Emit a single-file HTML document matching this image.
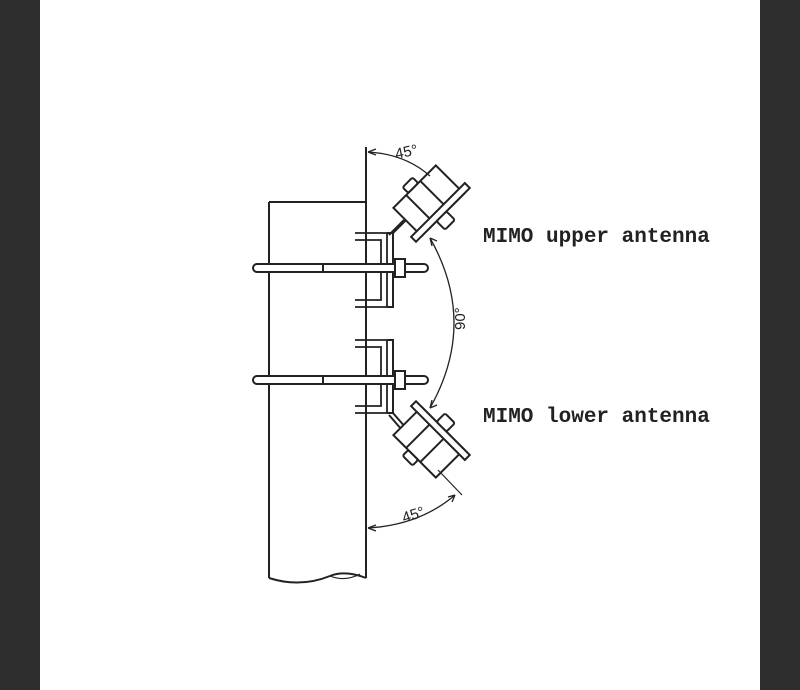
<!DOCTYPE html>
<html><head><style>
body{margin:0;background:#fff}
.wrap{position:relative;width:800px;height:690px;background:#fff;overflow:hidden}
.bl{position:absolute;top:0;left:0;width:40px;height:690px;background:#2d2d2d}
.br{position:absolute;top:0;right:0;width:40px;height:690px;background:#2d2d2d}
</style></head><body><div class="wrap"><div class="bl"></div><div class="br"></div>
<svg width="800" height="690" style="position:absolute;left:0;top:0" fill="none" stroke="#222" stroke-width="2">
<line x1="269" y1="202" x2="269" y2="578"/>
<line x1="269" y1="202" x2="366" y2="202"/>
<line x1="366" y1="147" x2="366" y2="578"/>
<path d="M269 578 Q300 588 330 576 Q345 570 366 578"/>
<path d="M330 576 Q345 582 360 574" stroke-width="1.2"/>
<g>
<path d="M355 233 H387 V307 H355 M355 240 H381 V300 H355" stroke-width="1.8"/>
<path d="M387 233 L393 233 V307 H387"/>
<rect x="253" y="264" width="175" height="8" rx="4" fill="#fff"/>
<line x1="323" y1="264" x2="323" y2="272"/>
<rect x="395" y="259" width="10" height="18" fill="#fff"/>
<line x1="393" y1="233" x2="408" y2="218"/>
<line x1="389" y1="235" x2="404" y2="220"/>
</g>
<g>
<path d="M355 340 H387 V413 H355 M355 347 H381 V406 H355" stroke-width="1.8"/>
<path d="M387 340 L393 340 V413 H387"/>
<rect x="253" y="376" width="175" height="8" rx="4" fill="#fff"/>
<line x1="323" y1="376" x2="323" y2="384"/>
<rect x="395" y="371" width="10" height="18" fill="#fff"/>
<line x1="393" y1="413" x2="406" y2="428"/>
<line x1="389" y1="415" x2="402" y2="430"/>
</g>
<g transform="translate(433,205) rotate(-45) scale(1,-1)">
<rect x="-30" y="-14" width="60" height="40" fill="#fff"/>
<rect x="-38" y="-14" width="76" height="7" fill="#fff"/>
<line x1="-12" y1="-7" x2="-12" y2="26"/>
<line x1="8" y1="-7" x2="8" y2="26"/>
<rect x="-9" y="-26" width="14" height="12" rx="2" fill="#fff"/>
<rect x="-9" y="26" width="14" height="8" rx="2" fill="#fff"/>
</g>
<g transform="translate(433,438) rotate(45)">
<rect x="-30" y="-14" width="60" height="40" fill="#fff"/>
<rect x="-38" y="-14" width="76" height="7" fill="#fff"/>
<line x1="-12" y1="-7" x2="-12" y2="26"/>
<line x1="8" y1="-7" x2="8" y2="26"/>
<rect x="-9" y="-26" width="14" height="12" rx="2" fill="#fff"/>
<rect x="-9" y="26" width="14" height="8" rx="2" fill="#fff"/>
</g>
<path d="M368 152 Q405 154 430 176" stroke-width="1.3"/>
<path d="M368 152 l8 -3 M368 152 l8 3" stroke-width="1.3"/>
<path d="M430 238 Q478 323 430 408" stroke-width="1.3"/>
<path d="M430 238 l2 8 M430 238 l7 3 M430 408 l2 -8 M430 408 l7 -3" stroke-width="1.3"/>
<line x1="438" y1="470" x2="462" y2="495" stroke-width="1.2"/>
<path d="M368 528 Q420 525 455 495" stroke-width="1.3"/>
<path d="M368 528 l8 -3 M368 528 l8 3 M455 495 l-3 7 M455 495 l-7 2" stroke-width="1.3"/>
</svg>
<svg width="800" height="690" style="position:absolute;left:0;top:0" font-family="Liberation Sans, sans-serif" fill="#222">
<text x="395" y="157" font-size="15" transform="rotate(-12 405 152)">45°</text>
<text x="460" y="335" font-size="15" transform="rotate(-90 460 330)">90°</text>
<text x="402" y="520" font-size="15" transform="rotate(-18 412 515)">45°</text>
<text x="483" y="242" font-family="Liberation Mono, monospace" font-size="21" font-weight="bold">MIMO upper antenna</text>
<text x="483" y="422" font-family="Liberation Mono, monospace" font-size="21" font-weight="bold">MIMO lower antenna</text>
</svg>
</div></body></html>
